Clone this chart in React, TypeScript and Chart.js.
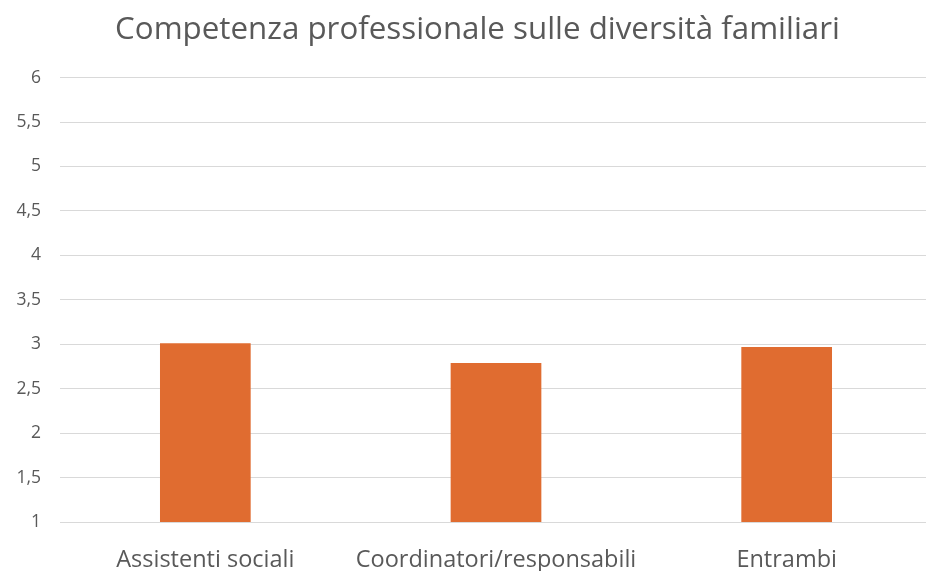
import React, { useEffect, useRef } from "react";
import { Chart, registerables } from "chart.js";

Chart.register(...registerables);

const categories = ["Assistenti sociali", "Coordinatori/responsabili", "Entrambi"];
const values = [3.01, 2.79, 2.97];
const yMin = 1;
const yMax = 6;
const yStep = 0.5;
const titleText = "Competenza professionale sulle diversità familiari";

export default function App() {
  const ref = useRef<HTMLCanvasElement | null>(null);
  useEffect(() => {
    if (!ref.current) return;
    const chart = new Chart(ref.current, {
      type: "bar",
      data: {
        labels: categories,
        datasets: [
          {
            data: values,
            backgroundColor: "#E06C30",
            borderWidth: 0,
            categoryPercentage: 1,
            barPercentage: 0.312,
          },
        ],
      },
      options: {
        animation: false,
        responsive: false,
        maintainAspectRatio: false,
        layout: { padding: 0 },
        plugins: {
          legend: { display: false },
          tooltip: { enabled: false },
          title: {
            display: true,
            text: titleText,
            color: "#595959",
            font: { family: "Open Sans", size: 31.3, weight: "normal" },
            padding: { top: 11, bottom: 29 },
          },
        },
        scales: {
          x: {
            grid: { display: false, drawTicks: false },
            border: { display: true, color: "#D9D9D9", width: 1 },
            ticks: {
              color: "#595959",
              font: { family: "Open Sans", size: 23.5 },
              padding: 24,
              maxRotation: 0,
            },
            afterFit: (s: any) => {
              s.height = 49;
            },
          },
          y: {
            min: yMin,
            max: yMax,
            grid: { color: "#D9D9D9", lineWidth: 1, drawTicks: false },
            border: { display: false },
            ticks: {
              stepSize: yStep,
              color: "#595959",
              font: { family: "Open Sans", size: 17.5 },
              padding: 19,
              callback: (v: any) => String(v).replace(".", ","),
            },
            afterFit: (s: any) => {
              s.width = 60;
            },
          },
          yRight: {
            position: "right",
            display: true,
            grid: { display: false, drawTicks: false },
            border: { display: false },
            ticks: { display: false },
            afterFit: (s: any) => {
              s.width = 23;
            },
          },
        },
      },
    });
    return () => chart.destroy();
  }, []);
  return (
    <div style={{ position: "fixed", left: 0, top: 0, width: 926, height: 571, overflow: "hidden", background: "#fff" }}>
      <canvas ref={ref} width={955} height={571} style={{ width: 955, height: 571, display: "block" }} />
    </div>
  );
}
